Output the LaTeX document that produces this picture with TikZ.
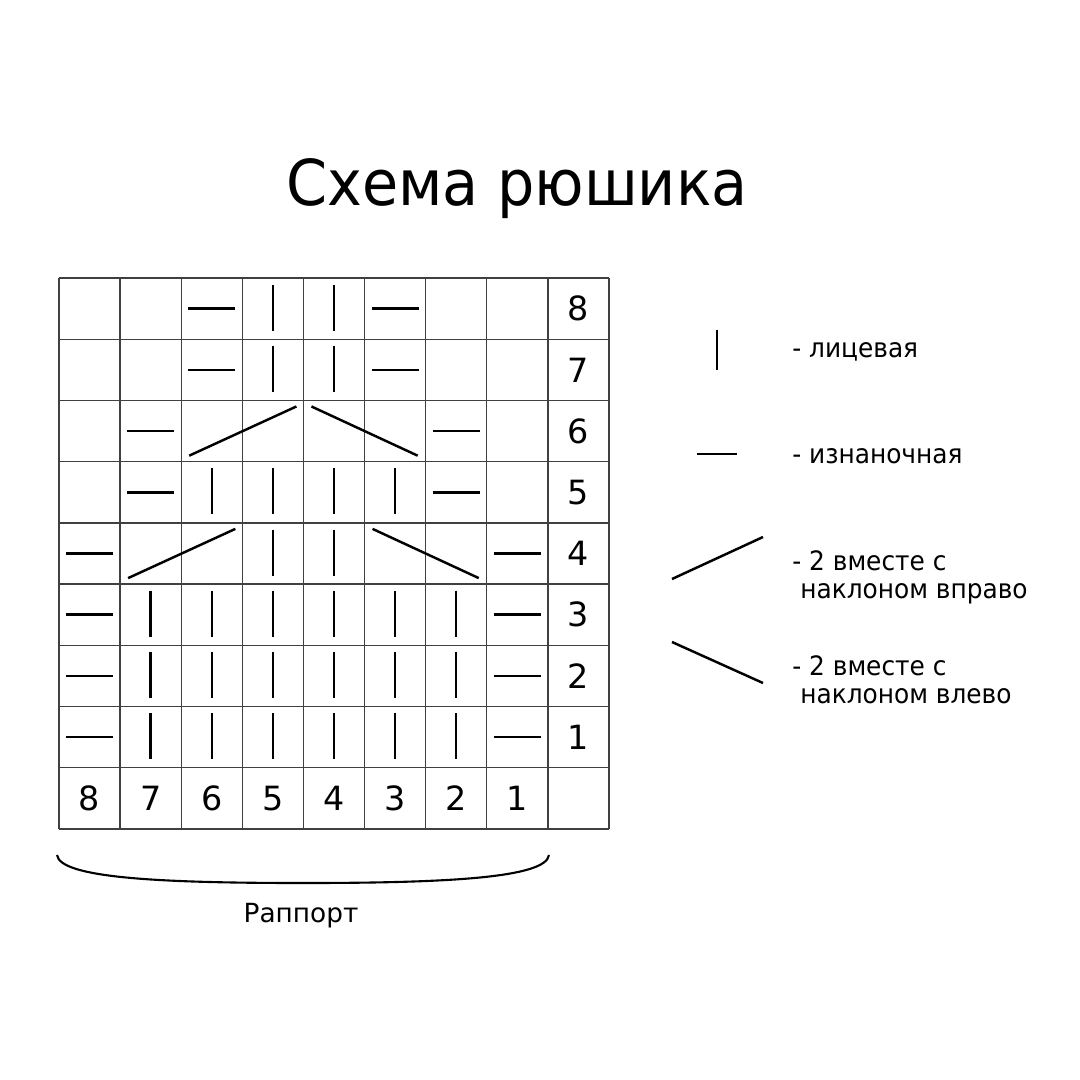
\documentclass[tikz,border=0pt]{standalone}
\usepackage{fontspec}
\setmainfont{DejaVu Sans}
\newfontfamily\narrowfont[FakeStretch=0.93]{DejaVu Sans}
\usetikzlibrary{positioning,calc}

\begin{document}
\begin{tikzpicture}[x=0.02cm, y=-0.02cm,
                    chart line/.style={draw=black!75, line width=0.8pt},
                    stitch/.style={line width=1.4pt},
                    row num/.style={font=\fontsize{19}{19}\selectfont, inner sep=0pt},
                    legend text/.style={font=\narrowfont\fontsize{15.2}{15}\selectfont, anchor=base west, inner sep=0pt}]

    \fill[white] (0,0) rectangle (1080,1080);
    \useasboundingbox (0,0) rectangle (1080,1080);

    \node [font=\narrowfont\fontsize{36}{36}\selectfont, anchor=base] (title) at (517,205) {Схема рюшика};

    \foreach \i in {0,...,9} {
        \draw [chart line] ({59+\i*61.11},278) -- ({59+\i*61.11},829);
        \draw [chart line] (59,{278+\i*61.22}) -- (609,{278+\i*61.22});
    }

    \foreach \n in {1,...,8} {
        \node [row num] (row\n) at ({59+8.5*61.11},{278+(8.5-\n)*61.22}) {\n};
        \node [row num] (col\n) at ({59+(8.5-\n)*61.11},{278+8.5*61.22}) {\n};
    }

    \foreach \c/\r in {3/0,4/0,3/1,4/1,2/3,3/3,4/3,5/3,3/4,4/4,
                       1/5,2/5,3/5,4/5,5/5,6/5,1/6,2/6,3/6,4/6,5/6,6/6,1/7,2/7,3/7,4/7,5/7,6/7}
        \draw [stitch] ({59+(\c+0.5)*61.11},{278+(\r+0.5)*61.22-24}) -- ++(0,46);

    \foreach \c/\r in {2/0,5/0,2/1,5/1,1/2,6/2,1/3,6/3,0/4,7/4,0/5,7/5,0/6,7/6,0/7,7/7}
        \draw [stitch] ({59+(\c+0.5)*61.11-23.5},{278+(\r+0.5)*61.22}) -- ++(47,0);

    \foreach \c/\r in {2/2,1/4}
        \draw [stitch] ({59+\c*61.11+8},{278+(\r+1)*61.22-6}) -- ({59+(\c+2)*61.11-7},{278+\r*61.22+6});
    \foreach \c/\r in {4/2,5/4}
        \draw [stitch] ({59+\c*61.11+8},{278+\r*61.22+6}) -- ({59+(\c+2)*61.11-8},{278+(\r+1)*61.22-6});

    \draw [stitch] (717,330) -- (717,370);
    \node [legend text] (knit key) at (792,357) {- лицевая};
    \draw [stitch] (697,454) -- (737,454);
    \node [legend text] (purl key) at (792,463) {- изнаночная};
    \draw [stitch] (672,579) -- (763,537);
    \node [legend text] (right key) at (792,570) {- 2 вместе с};
    \node [legend text] (right key2) at (800,598) {наклоном вправо};
    \draw [stitch] (672,642) -- (763,683);
    \node [legend text] (left key) at (792,675) {- 2 вместе с};
    \node [legend text] (left key2) at (800,703) {наклоном влево};

    \coordinate (brace l) at (57,855);
    \coordinate (brace r) at (549,855);
    \draw [line width=1.2pt] (brace l) .. controls (60,878) and (160,883) .. (303,883)
                                    .. controls (446,883) and (546,878) .. (brace r);
    \node [font=\fontsize{15}{15}\selectfont, anchor=base] (rapport) at (301,922) {Раппорт};

\end{tikzpicture}
\end{document}
